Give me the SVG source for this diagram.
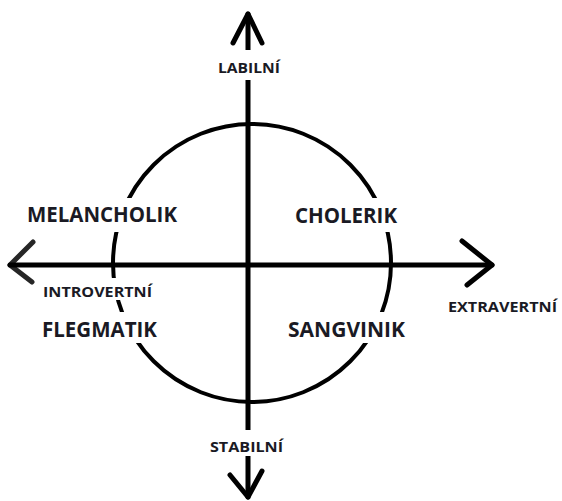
<svg xmlns="http://www.w3.org/2000/svg" width="562" height="501" viewBox="0 0 562 501">
<style>
.axis{stroke:#000;stroke-width:5;fill:none;stroke-linecap:round;stroke-linejoin:round}
.circ{stroke:#000;stroke-width:4;fill:none}
.bg{fill:#fff;stroke:none}
.big{font-family:"Open Sans","Liberation Sans",sans-serif;font-weight:bold;font-size:21px;fill:#1a1a24}
.small{font-family:"Open Sans","Liberation Sans",sans-serif;font-weight:bold;font-size:15px;fill:#1a1a24}
</style>
<rect width="562" height="501" fill="#fff"/>
<g id="connectors">
<circle class="circ" cx="252" cy="263" r="139"/>
<line class="axis" x1="248" y1="14" x2="248" y2="497"/>
<line class="axis" x1="10" y1="265" x2="492" y2="265"/>
<polyline class="axis" points="233,43 248,14 262,43"/>
<polyline class="axis" points="230,475 248,497 262,471"/>
<polyline class="axis" points="33,242 10,265 32,282" stroke-opacity="0.85"/>
<polyline class="axis" points="462,241 492,265 467,285"/>
</g>
<g id="labilni"><rect class="bg" x="214" y="50" width="70" height="30"/><text class="small" x="218" y="73" textLength="62" lengthAdjust="spacingAndGlyphs">LABILNÍ</text></g>
<g id="stabilni"><rect class="bg" x="206" y="430" width="81" height="26"/><text class="small" x="210" y="452" textLength="73" lengthAdjust="spacingAndGlyphs">STABILNÍ</text></g>
<g id="melancholik"><rect class="bg" x="22" y="198" width="160" height="34"/><text class="big" x="27" y="222" textLength="150" lengthAdjust="spacingAndGlyphs">MELANCHOLIK</text></g>
<g id="cholerik"><rect class="bg" x="290" y="198" width="112" height="34"/><text class="big" x="295" y="223" textLength="102" lengthAdjust="spacingAndGlyphs">CHOLERIK</text></g>
<g id="introvertni"><rect class="bg" x="38" y="278" width="119" height="22"/><text class="small" x="43" y="297" textLength="109" lengthAdjust="spacingAndGlyphs">INTROVERTNÍ</text></g>
<g id="flegmatik"><rect class="bg" x="37" y="312" width="125" height="31"/><text class="big" x="42" y="337" textLength="115" lengthAdjust="spacingAndGlyphs">FLEGMATIK</text></g>
<g id="sangvinik"><rect class="bg" x="283" y="312" width="127" height="31"/><text class="big" x="288" y="337" textLength="117" lengthAdjust="spacingAndGlyphs">SANGVINIK</text></g>
<g id="extravertni"><text class="small" x="448" y="312" textLength="109" lengthAdjust="spacingAndGlyphs">EXTRAVERTNÍ</text></g>
</svg>
